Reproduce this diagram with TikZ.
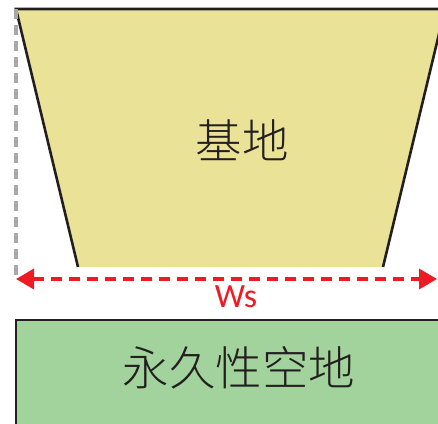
\documentclass[tikz,border=0pt]{standalone}
\usepackage{fontspec}
\setmainfont{Carlito}
\newfontfamily\cjk{Noto Sans CJK SC Light}
\usetikzlibrary{arrows.meta}
\definecolor{baseyellow}{RGB}{234,226,150}
\definecolor{opengreen}{RGB}{163,211,156}
\definecolor{dimred}{RGB}{237,28,36}
\definecolor{guidegray}{RGB}{168,168,168}
\definecolor{edgedark}{RGB}{35,31,32}
\tikzset{
  shapeedge/.style={draw=edgedark, line width=2.6pt},
  guide/.style={draw=guidegray, line width=3.2pt, dash pattern=on 10pt off 6pt},
  dimline/.style={draw=dimred, line width=3.6pt, dash pattern=on 11pt off 7pt,
    {Triangle[length=18pt,width=20pt]}-{Triangle[length=18pt,width=20pt]}},
  cjklabel/.style={font=\cjk\fontsize{46.5}{50}\selectfont, text=edgedark, inner sep=0pt},
}
\begin{document}
\begin{tikzpicture}[x=1pt,y=-1pt]
\useasboundingbox (0,0) rectangle (438,423);
\begin{scope}
\clip (0,0) rectangle (438,423);
% base trapezoid
\fill[baseyellow] (16,9) -- (445,9) -- (383,267) -- (78,267) -- cycle;
\draw[shapeedge] (78,267) -- (16,9) -- (445,9) -- (383,267);
% guide
\coordinate (gtop) at (16,9);
\coordinate (gbot) at (16,279);
\draw[guide] (gtop) -- (gbot);
% dimension
\coordinate (dl) at (16,279);
\coordinate (dr) at (437,279);
\draw[dimline] (dl) -- (dr);
\node[text=dimred, font=\fontsize{34}{38}\selectfont, inner sep=0pt] (ws) at (236,297) {Ws};
% green rectangle
\draw[shapeedge, fill=opengreen] (16,320) rectangle (450,440);
\end{scope}
\node[cjklabel] (base) at (242,140) {基地};
\node[cjklabel] (open) at (239,368) {永久性空地};
\end{tikzpicture}
\end{document}
